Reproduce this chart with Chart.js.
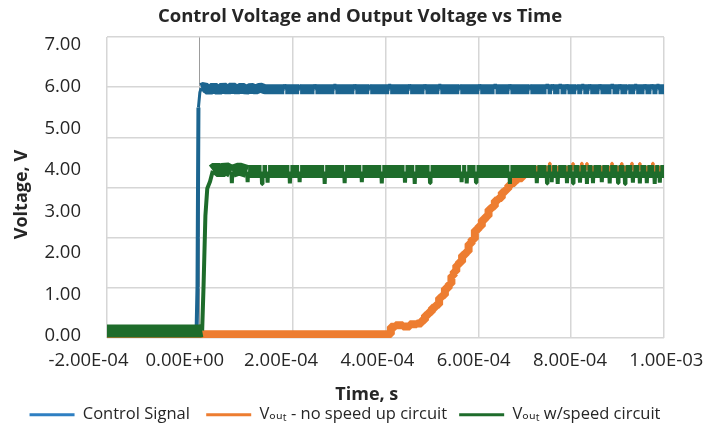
<!DOCTYPE html>
<html><head><meta charset="utf-8">
<script src="https://cdn.jsdelivr.net/npm/chart.js@4.4.1/dist/chart.umd.min.js"></script>
<style>html,body{margin:0;padding:0;background:#fff}#wrap{width:720px;height:428px;position:relative}</style>
</head><body><div id="wrap"><canvas id="c"></canvas></div>
<script>
// ---- tick labels ----
const xTickValues = [-2e-4, 0, 2e-4, 4e-4, 6e-4, 8e-4, 1e-3];
const xTickLabels = ['-2.00E-04', '0.00E+00', '2.00E-04', '4.00E-04', '6.00E-04', '8.00E-04', '1.00E-03'];
const yTickValues = [0, 1, 2, 3, 4, 5, 6, 7];
const yTickLabels = ['0.00', '1.00', '2.00', '3.00', '4.00', '5.00', '6.00', '7.00'];
const seriesNames = ['Control Signal', 'V\u2092\u1d64\u209c - no speed up circuit', 'V\u2092\u1d64\u209c w/speed circuit'];

// ---- Control Signal ----
const ctrlTime = [-2.0e-4, -7e-6, -5e-6, -3e-6, 0, 3e-6, 1.0e-5, 2.0e-5, 3.0e-5, 4.0e-5, 5.0e-5, 6.0e-5, 7.0e-5, 8.0e-5, 9.0e-5, 1.0e-4, 1.1e-4, 1.2e-4, 1.3e-4, 1.4e-4,
  1.82e-4, 1.83e-4, 1.84e-4, 2.14e-4, 2.15e-4, 2.16e-4, 2.47e-4, 2.48e-4, 2.49e-4, 2.90e-4, 2.91e-4, 2.92e-4,
  3.33e-4, 3.34e-4, 3.35e-4, 3.65e-4, 3.66e-4, 3.67e-4, 4.08e-4, 4.09e-4, 4.10e-4, 4.51e-4, 4.52e-4, 4.53e-4,
  4.84e-4, 4.85e-4, 4.86e-4, 5.16e-4, 5.17e-4, 5.18e-4, 5.59e-4, 5.60e-4, 5.61e-4, 6.02e-4, 6.03e-4, 6.04e-4,
  6.35e-4, 6.36e-4, 6.37e-4, 6.67e-4, 6.68e-4, 6.69e-4, 7.10e-4, 7.11e-4, 7.12e-4, 7.47e-4, 7.48e-4, 7.49e-4,
  7.59e-4, 7.60e-4, 7.61e-4, 7.75e-4, 7.76e-4, 7.77e-4, 7.90e-4, 7.91e-4, 7.92e-4, 8.11e-4, 8.12e-4, 8.13e-4,
  8.24e-4, 8.25e-4, 8.26e-4, 8.39e-4, 8.40e-4, 8.41e-4, 8.61e-4, 8.62e-4, 8.63e-4, 8.87e-4, 8.88e-4, 8.89e-4,
  9.04e-4, 9.05e-4, 9.06e-4, 9.21e-4, 9.22e-4, 9.23e-4, 9.38e-4, 9.39e-4, 9.40e-4, 9.58e-4, 9.59e-4, 9.60e-4,
  9.73e-4, 9.74e-4, 9.75e-4, 9.86e-4, 9.87e-4, 9.88e-4, 1.0e-3];
const ctrlVolt = [0.10, 0.10, 1.20, 5.50, 5.86, 5.97, 6.00, 5.90, 6.00, 5.90, 6.00, 5.91, 6.00, 5.92, 5.99, 5.92, 5.98, 5.93, 5.98, 5.94,
  5.94, 6.06, 5.94, 5.94, 6.05, 5.94, 5.94, 6.06, 5.94, 5.94, 6.07, 5.94,
  5.94, 6.06, 5.94, 5.94, 6.05, 5.94, 5.94, 6.07, 5.94, 5.94, 6.06, 5.94,
  5.94, 6.06, 5.94, 5.94, 6.07, 5.94, 5.94, 6.05, 5.94, 5.94, 6.06, 5.94,
  5.94, 6.07, 5.94, 5.94, 6.06, 5.94, 5.94, 6.05, 5.94, 5.94, 6.07, 5.94,
  5.94, 6.06, 5.94, 5.94, 6.07, 5.94, 5.94, 6.06, 5.94, 5.94, 6.05, 5.94,
  5.94, 6.07, 5.94, 5.94, 6.06, 5.94, 5.94, 6.06, 5.94, 5.94, 6.07, 5.94,
  5.94, 6.06, 5.94, 5.94, 6.05, 5.94, 5.94, 6.07, 5.94, 5.94, 6.06, 5.94,
  5.94, 6.06, 5.94, 5.94, 6.07, 5.94, 5.94];

// ---- Vout - no speed up circuit ----
const slowTime = [-2.0e-4, 4.10e-4, 4.13e-4, 4.30e-4, 4.45e-4, 4.60e-4, 4.75e-4, 4.80e-4, 4.90e-4, 4.95e-4, 5.05e-4, 5.11e-4,
  5.20e-4, 5.23e-4, 5.33e-4, 5.39e-4, 5.45e-4, 5.49e-4, 5.56e-4, 5.60e-4, 5.70e-4, 5.75e-4, 5.83e-4, 5.88e-4,
  5.97e-4, 6.03e-4, 6.12e-4, 6.18e-4, 6.26e-4, 6.31e-4, 6.40e-4, 6.46e-4, 6.55e-4, 6.61e-4, 6.68e-4, 6.74e-4,
  6.83e-4, 6.89e-4, 7.00e-4, 7.04e-4, 7.15e-4, 7.30e-4,
  7.525e-4, 7.54e-4, 7.555e-4, 8.025e-4, 8.04e-4, 8.055e-4, 8.215e-4, 8.23e-4, 8.245e-4, 8.325e-4, 8.34e-4, 8.355e-4,
  8.865e-4, 8.88e-4, 8.895e-4, 9.075e-4, 9.09e-4, 9.105e-4, 9.295e-4, 9.31e-4, 9.325e-4, 9.465e-4, 9.48e-4, 9.495e-4,
  9.745e-4, 9.76e-4, 9.775e-4, 1.0e-3];
const slowVolt = [0.04, 0.04, 0.22, 0.26, 0.23, 0.28, 0.30, 0.38, 0.50, 0.58, 0.68, 0.75,
  0.92, 0.98, 1.15, 1.25, 1.45, 1.55, 1.70, 1.78, 1.95, 2.03, 2.22, 2.33,
  2.55, 2.64, 2.80, 2.88, 3.05, 3.12, 3.26, 3.32, 3.46, 3.53, 3.63, 3.68,
  3.76, 3.80, 3.90, 3.92, 3.98, 4.00,
  4.00, 4.16, 4.00, 4.00, 4.15, 4.00, 4.00, 4.16, 4.00, 4.00, 4.15, 4.00,
  4.00, 4.16, 4.00, 4.00, 4.15, 4.00, 4.00, 4.16, 4.00, 4.00, 4.15, 4.00,
  4.00, 4.16, 4.00, 4.00];

// ---- Vout w/speed circuit ----
const fastTime = [-2.0e-4, -1.0e-4, 0, 5e-6, 8e-6, 1.2e-5, 1.6e-5, 2.2e-5, 2.8e-5, 3.5e-5, 4.5e-5, 5.5e-5,
  6.8e-5, 6.9e-5, 7.0e-5, 8.5e-5, 1.02e-4, 1.03e-4, 1.04e-4, 1.33e-4, 1.34e-4, 1.35e-4, 1.45e-4, 1.46e-4, 1.47e-4,
  1.93e-4, 1.94e-4, 1.95e-4, 2.14e-4, 2.15e-4, 2.16e-4, 2.68e-4, 2.69e-4, 2.70e-4, 3.11e-4, 3.12e-4, 3.13e-4,
  3.48e-4, 3.49e-4, 3.50e-4, 3.91e-4, 3.92e-4, 3.93e-4, 4.41e-4, 4.42e-4, 4.43e-4, 4.62e-4, 4.63e-4, 4.64e-4,
  4.95e-4, 4.96e-4, 4.97e-4, 5.63e-4, 5.64e-4, 5.65e-4, 5.74e-4, 5.75e-4, 5.76e-4, 5.94e-4, 5.95e-4, 5.96e-4,
  6.67e-4, 6.68e-4, 6.69e-4, 7.25e-4, 7.26e-4, 7.27e-4, 7.47e-4, 7.48e-4, 7.49e-4, 7.57e-4, 7.58e-4, 7.59e-4,
  7.70e-4, 7.71e-4, 7.72e-4, 7.90e-4, 7.91e-4, 7.92e-4, 8.03e-4, 8.04e-4, 8.05e-4, 8.18e-4, 8.19e-4, 8.20e-4,
  8.33e-4, 8.34e-4, 8.35e-4, 8.46e-4, 8.47e-4, 8.48e-4, 8.65e-4, 8.66e-4, 8.67e-4, 8.82e-4, 8.83e-4, 8.84e-4,
  9.00e-4, 9.01e-4, 9.02e-4, 9.15e-4, 9.16e-4, 9.17e-4, 9.32e-4, 9.33e-4, 9.34e-4, 9.47e-4, 9.48e-4, 9.49e-4,
  9.62e-4, 9.63e-4, 9.64e-4, 9.79e-4, 9.80e-4, 9.81e-4, 9.90e-4, 9.91e-4, 9.92e-4, 1.0e-3];
const fastVolt = [0.12, 0.12, 0.12, 0.13, 1.20, 2.90, 3.55, 3.72, 3.98, 4.04, 3.95, 4.04,
  3.96, 3.68, 3.96, 4.02, 3.96, 3.70, 3.96, 3.96, 3.66, 3.96, 3.96, 3.69, 3.96,
  3.96, 3.67, 3.96, 3.96, 3.70, 3.96, 3.96, 3.66, 3.96, 3.96, 3.68, 3.96,
  3.96, 3.70, 3.96, 3.96, 3.67, 3.96, 3.96, 3.69, 3.96, 3.96, 3.66, 3.96,
  3.96, 3.68, 3.96, 3.96, 3.70, 3.96, 3.96, 3.67, 3.96, 3.96, 3.69, 3.96,
  3.96, 3.66, 3.96, 3.96, 3.68, 3.96, 3.96, 3.67, 3.96, 3.96, 3.70, 3.96,
  3.96, 3.66, 3.96, 3.96, 3.68, 3.96, 3.96, 3.67, 3.96, 3.96, 3.69, 3.96,
  3.96, 3.66, 3.96, 3.96, 3.68, 3.96, 3.96, 3.70, 3.96, 3.96, 3.67, 3.96,
  3.96, 3.68, 3.96, 3.96, 3.66, 3.96, 3.96, 3.69, 3.96, 3.96, 3.67, 3.96,
  3.96, 3.68, 3.96, 3.96, 3.66, 3.96, 3.96, 3.69, 3.96, 3.96];

const toPoints = (ts, vs) => ts.map((t, i) => ({x: t, y: vs[i]}));

const FONT = "'Open Sans', 'DejaVu Sans', sans-serif";
const TXT = '#262626';
const GRID = '#d6d6d6';

const dv = c => Math.abs(c.p1.parsed.y - c.p0.parsed.y);
const ctrlWidth = c => dv(c) > 0.4 ? 4 : (dv(c) > 0.1 ? 3 : 10);
const fastWidth = c => dv(c) > 0.15 ? 4 : 13;
const slowWidth = c => (dv(c) > 0.1 && c.p0.parsed.y >= 3.99 && c.p1.parsed.y >= 3.99) ? 3 : 8;

new Chart(document.getElementById('c'), {
  type: 'line',
  data: {
    datasets: [
      { label: seriesNames[0], data: toPoints(ctrlTime, ctrlVolt), borderColor: '#1c6590', backgroundColor: '#2e7fc2',
        borderWidth: 10, segment: { borderWidth: ctrlWidth }, order: 2, clip: 0 },
      { label: seriesNames[1], data: toPoints(slowTime, slowVolt), borderColor: '#ed7d31', backgroundColor: '#ed7d31',
        borderWidth: 8, segment: { borderWidth: slowWidth }, stepped: 'middle', order: 1, clip: 0 },
      { label: seriesNames[2], data: toPoints(fastTime, fastVolt), borderColor: '#1e6c2b', backgroundColor: '#1e6c2b',
        borderWidth: 13, segment: { borderWidth: fastWidth }, order: 0, clip: 0 }
    ]
  },
  options: {
    responsive: true, maintainAspectRatio: false, animation: false,
    layout: { padding: { top: 0, left: 0, right: 0, bottom: -5 } },
    elements: { point: { radius: 0, hoverRadius: 0 }, line: { tension: 0, borderJoinStyle: 'bevel', borderCapStyle: 'butt', fill: false } },
    scales: {
      x: {
        type: 'linear', position: 'bottom', min: -2e-4, max: 1e-3,
        afterBuildTicks: s => { s.ticks = xTickValues.map(v => ({ value: v })); },
        ticks: { display: false },
        grid: { color: c => (c.tick && c.tick.value === 0) ? '#9c9c9c' : GRID, lineWidth: c => (c.tick && c.tick.value === 0) ? 1 : 1.5, drawTicks: false },
        border: { display: false },
        afterFit: s => { s.height = 0; }
      },
      xl: {
        type: 'linear', position: 'bottom', min: 0.192, max: 5.976,
        afterBuildTicks: s => { s.ticks = xTickLabels.map((t, i) => ({ value: i })); },
        ticks: { callback: (v, i) => xTickLabels[i], autoSkip: false, maxRotation: 0, minRotation: 0, padding: 12,
          color: TXT, font: { family: FONT, size: 18.5 } },
        grid: { display: false, drawTicks: false },
        border: { display: false },
        title: { display: true, text: 'Time, s' + '        ', color: TXT, font: { family: FONT, size: 18, weight: 'bold' }, padding: { top: 0, bottom: -2.8 } },
        afterFit: s => { s.height = 65; }
      },
      y: {
        type: 'linear', position: 'left', min: -0.0486, max: 7.195,
        afterBuildTicks: s => { s.ticks = yTickValues.map(v => ({ value: v })); },
        ticks: { callback: (v, i) => yTickLabels[i], padding: 26, color: TXT, font: { family: FONT, size: 18.5 } },
        grid: { display: false, drawTicks: false },
        border: { display: false },
        title: { display: true, text: 'Voltage, V' + '   ', color: TXT, font: { family: FONT, size: 18, weight: 'bold' }, padding: { top: 11, bottom: 0 } },
        afterFit: s => { s.width = 107; }
      },
      yg: {
        type: 'linear', position: 'right', min: 0, max: 6,
        afterBuildTicks: s => { s.ticks = [0, 1, 2, 3, 4, 5, 6].map(v => ({ value: v })); },
        ticks: { display: false },
        grid: { color: GRID, lineWidth: 1.5, drawTicks: false },
        border: { display: false },
        afterFit: s => { s.width = 56; }
      }
    },
    plugins: {
      title: { display: true, text: 'Control Voltage and Output Voltage vs Time', color: TXT,
        font: { family: FONT, size: 18.5, weight: 'bold' }, padding: { top: 6, bottom: 8.8 } },
      legend: {
        position: 'bottom',
        labels: {
          usePointStyle: true, pointStyle: 'line', pointStyleWidth: 45, padding: 3.5, color: TXT,
          font: { family: FONT, size: 16.5 },
          generateLabels: chart => {
            const items = Chart.defaults.plugins.legend.labels.generateLabels(chart);
            const tails = ['   ', '  ', '       '];
            items.forEach(it => {
              it.lineWidth = 3;
              it.strokeStyle = chart.data.datasets[it.datasetIndex].backgroundColor;
              it.text = it.text + tails[it.datasetIndex];
            });
            return items;
          },
          sort: (a, b) => a.datasetIndex - b.datasetIndex
        }
      },
      tooltip: { enabled: false }
    }
  }
});
</script>
</body></html>
